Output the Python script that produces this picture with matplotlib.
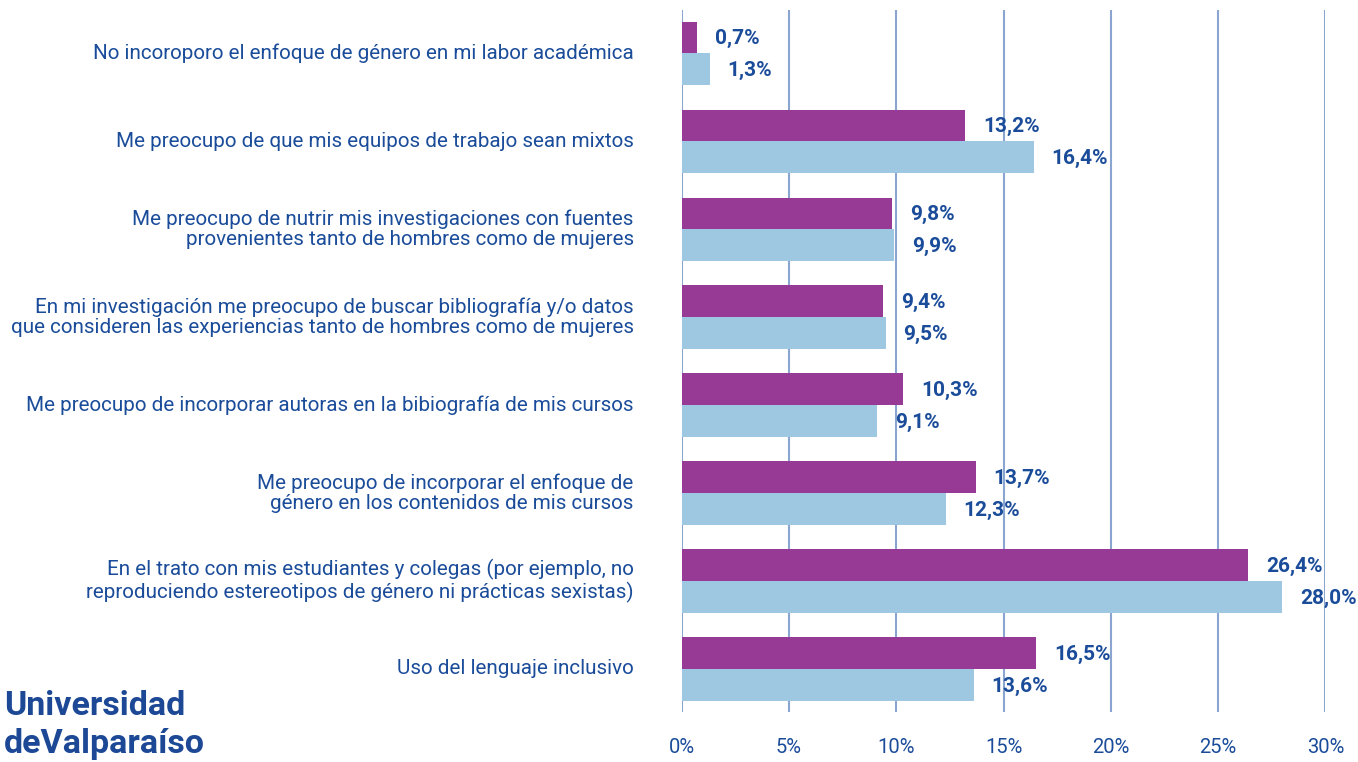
import matplotlib.pyplot as plt
import numpy as np

plt.rcParams['font.family'] = ['Roboto', 'DejaVu Sans']

categorias = [
    "No incoroporo el enfoque de género en mi labor académica",
    "Me preocupo de que mis equipos de trabajo sean mixtos",
    "Me preocupo de nutrir mis investigaciones con fuentes\nprovenientes tanto de hombres como de mujeres",
    "En mi investigación me preocupo de buscar bibliografía y/o datos\nque consideren las experiencias tanto de hombres como de mujeres",
    "Me preocupo de incorporar autoras en la bibiografía de mis cursos",
    "Me preocupo de incorporar el enfoque de\ngénero en los contenidos de mis cursos",
    "En el trato con mis estudiantes y colegas (por ejemplo, no\nreproduciendo estereotipos de género ni prácticas sexistas)",
    "Uso del lenguaje inclusivo",
]
serie_morada = [0.7, 13.2, 9.8, 9.4, 10.3, 13.7, 26.4, 16.5]
serie_celeste = [1.3, 16.4, 9.9, 9.5, 9.1, 12.3, 28.0, 13.6]
ticks = [0, 5, 10, 15, 20, 25, 30]

azul = '#1A4C9A'
morado = '#963A96'
celeste = '#9EC8E2'
grilla = '#8AA6D0'

fig = plt.figure(figsize=(13.58, 7.62), dpi=100)
ax = fig.add_axes([0.502, 0.0656, 0.474, 0.921])

y = np.arange(len(categorias))
h = 0.36
ax.barh(y - h / 2, serie_morada, height=h, color=morado, zorder=3)
ax.barh(y + h / 2, serie_celeste, height=h, color=celeste, zorder=3)

for yi, v in zip(y, serie_morada):
    ax.annotate(f"{v:.1f}%".replace('.', ','), (v, yi - h / 2), xytext=(13, -1),
                textcoords='offset points', va='center', ha='left',
                fontsize=15, fontweight='bold', color=azul)
for yi, v in zip(y, serie_celeste):
    ax.annotate(f"{v:.1f}%".replace('.', ','), (v, yi + h / 2), xytext=(13, -1),
                textcoords='offset points', va='center', ha='left',
                fontsize=15, fontweight='bold', color=azul)

for yi, c in zip(y, categorias):
    ax.text(-2.24, yi, c, ha='right', va='center', fontsize=14.9,
            color=azul, linespacing=1.1)

ax.set_xlim(0, 30)
ax.set_ylim(len(categorias) - 0.51, -0.49)
ax.set_xticks(ticks)
ax.set_xticklabels([f"{t}%" for t in ticks], fontsize=14.5, color=azul)
ax.tick_params(axis='x', length=0, pad=19)
ax.set_yticks([])
ax.grid(axis='x', color=grilla, linewidth=1.5, zorder=0)
for s in ax.spines.values():
    s.set_visible(False)

fig.text(0.003, 0.074, "Universidad", fontsize=24.5, fontweight='bold',
         color='#1C4896', ha='left', va='center')
fig.text(0.003, 0.024, "deValparaíso", fontsize=24.5, fontweight='bold',
         color='#1C4896', ha='left', va='center')

fig.savefig('out.png', dpi=100)
